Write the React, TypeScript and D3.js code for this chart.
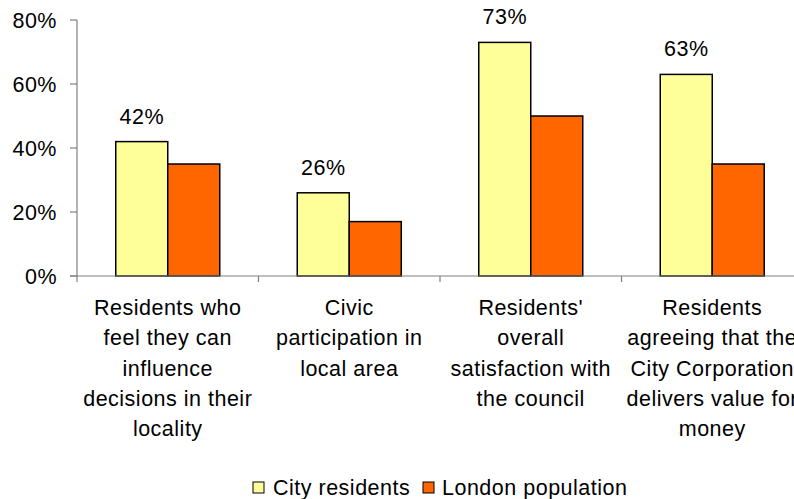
import React, { useEffect, useRef } from "react";
import * as d3 from "d3";

const categories = [
  "Residents who feel they can influence decisions in their locality",
  "Civic participation in local area",
  "Residents' overall satisfaction with the council",
  "Residents agreeing that the City Corporation delivers value for money",
];
const categoryLines = [
  ["Residents who", "feel they can", "influence", "decisions in their", "locality"],
  ["Civic", "participation in", "local area"],
  ["Residents'", "overall", "satisfaction with", "the council"],
  ["Residents", "agreeing that the", "City Corporation", "delivers value for", "money"],
];
const seriesNames = ["City residents", "London population"];
const cityValues = [42, 26, 73, 63];
const londonValues = [35, 17, 50, 35];
const yTicks = [0, 20, 40, 60, 80];
const colors = ["#FFFF99", "#FF6600"];

const App = () => {
  const svgRef: any = useRef();

  useEffect(() => {
    document.body.style.margin = "0";
    const width = 794;
    const height = 499;
    const left = 77;
    const top = 20;
    const bottom = 276;
    const bandW = 181.5;
    const font = "'Liberation Sans', Arial, sans-serif";
    const fs = 21.5;
    const ls = 0.5;

    const svg = d3.select(svgRef.current);
    svg.selectAll("*").remove();
    svg.attr("width", width).attr("height", height);

    const x0 = d3
      .scaleBand()
      .domain(categories)
      .range([left, left + bandW * categories.length])
      .padding(0);
    const x1 = d3
      .scaleBand()
      .domain(seriesNames)
      .range([(bandW - 104) / 2, (bandW + 104) / 2]);
    const y = d3.scaleLinear().domain([0, 80]).range([bottom, top]);

    const table = categories.map((c, i) => ({
      cat: c,
      values: [cityValues[i], londonValues[i]],
    }));

    // y axis
    const axisColor = "#808080";
    svg
      .append("line")
      .attr("x1", left)
      .attr("x2", left)
      .attr("y1", y(80))
      .attr("y2", y(0))
      .attr("stroke", axisColor)
      .attr("stroke-width", 1.2);
    yTicks.forEach((t) => {
      svg
        .append("line")
        .attr("x1", left - 7)
        .attr("x2", left)
        .attr("y1", y(t))
        .attr("y2", y(t))
        .attr("stroke", axisColor)
        .attr("stroke-width", 1.2);
      svg
        .append("text")
        .attr("x", 57)
        .attr("y", y(t))
        .attr("dy", "0.35em")
        .attr("text-anchor", "end")
        .attr("font-family", font)
        .attr("font-size", fs)
        .attr("letter-spacing", ls)
        .attr("fill", "#000")
        .text(`${t}%`);
    });

    // bars
    table.forEach((d) => {
      d.values.forEach((v, j) => {
        const bx = (x0(d.cat) as number) + (x1(seriesNames[j]) as number);
        svg
          .append("rect")
          .attr("x", bx)
          .attr("y", y(v))
          .attr("width", x1.bandwidth())
          .attr("height", y(0) - y(v))
          .attr("fill", colors[j])
          .attr("stroke", "#000")
          .attr("stroke-width", 1.5);
      });
      const cx =
        (x0(d.cat) as number) + (x1(seriesNames[0]) as number) + x1.bandwidth() / 2;
      svg
        .append("text")
        .attr("x", cx)
        .attr("y", y(d.values[0]) - 18)
        .attr("text-anchor", "middle")
        .attr("font-family", font)
        .attr("font-size", fs)
        .attr("letter-spacing", ls)
        .text(`${d.values[0]}%`);
    });

    // x axis
    svg
      .append("line")
      .attr("x1", left - 7)
      .attr("x2", width)
      .attr("y1", y(0))
      .attr("y2", y(0))
      .attr("stroke", axisColor)
      .attr("stroke-width", 1.2);
    categories.forEach((c) => {
      const bx = x0(c) as number;
      svg
        .append("line")
        .attr("x1", bx)
        .attr("x2", bx)
        .attr("y1", y(0))
        .attr("y2", y(0) + 6)
        .attr("stroke", axisColor)
        .attr("stroke-width", 1.2);
    });

    // category labels
    categories.forEach((c, i) => {
      const cx = (x0(c) as number) + bandW / 2;
      const t = svg
        .append("text")
        .attr("text-anchor", "middle")
        .attr("font-family", font)
        .attr("font-size", fs)
        .attr("letter-spacing", ls);
      categoryLines[i].forEach((line, k) => {
        t.append("tspan")
          .attr("x", cx)
          .attr("y", 315 + k * 30.3)
          .text(line);
      });
    });

    // legend
    const legendItems = [
      { name: seriesNames[0], sx: 253, tx: 273 },
      { name: seriesNames[1], sx: 423, tx: 442 },
    ];
    legendItems.forEach((it, j) => {
      svg
        .append("rect")
        .attr("x", it.sx)
        .attr("y", 482)
        .attr("width", 11)
        .attr("height", 11)
        .attr("fill", colors[j])
        .attr("stroke", "#000")
        .attr("stroke-width", 1);
      svg
        .append("text")
        .attr("x", it.tx)
        .attr("y", 495)
        .attr("font-family", font)
        .attr("font-size", fs)
        .attr("letter-spacing", ls)
        .text(it.name);
    });
  }, []);

  return <svg ref={svgRef} style={{ display: "block" }}></svg>;
};

export default App;
